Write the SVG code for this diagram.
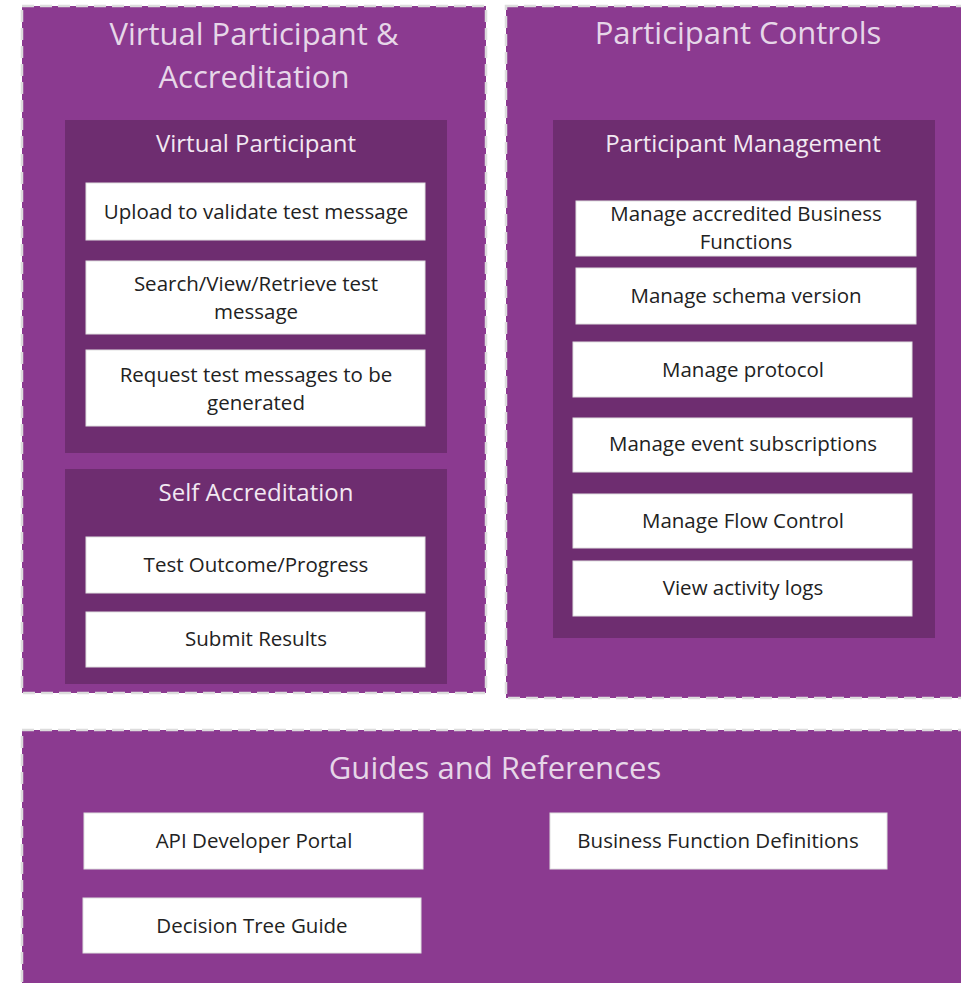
<svg xmlns="http://www.w3.org/2000/svg" width="961" height="983" viewBox="0 0 961 983">
<style>
.outer{fill:#8B3A90;stroke:#DCDCDC;stroke-width:2.5;stroke-dasharray:12 6}
.inner{fill:#6E2D70}
.box{fill:#FFFFFF;stroke:#E0E0E0;stroke-width:1}
.t1{font-family:"Open Sans","Liberation Sans",sans-serif;font-size:31px;fill:#E6D6E8;text-anchor:middle}
.t2{font-family:"Open Sans","Liberation Sans",sans-serif;font-size:24px;fill:#F2E8F2;text-anchor:middle}
.t3{font-family:"Open Sans","Liberation Sans",sans-serif;font-size:20.5px;fill:#222222;text-anchor:middle}
</style>
<rect width="961" height="983" fill="#FFFFFF"/>
<g id="vpa">
<rect class="outer" x="22" y="6" width="464" height="687"/>
<text class="t1" x="254" y="45">Virtual Participant &amp;</text>
<text class="t1" x="254" y="88">Accreditation</text>
</g>
<g id="vp">
<rect class="inner" x="65" y="120" width="382" height="333"/>
<text class="t2" x="256" y="152">Virtual Participant</text>
</g>
<g id="upload">
<rect class="box" x="86" y="183" width="339" height="57"/>
<text class="t3" x="256" y="219">Upload to validate test message</text>
</g>
<g id="search">
<rect class="box" x="86" y="261" width="339" height="73"/>
<text class="t3" x="256" y="291">Search/View/Retrieve test</text>
<text class="t3" x="256" y="319">message</text>
</g>
<g id="request">
<rect class="box" x="86" y="350" width="339" height="76"/>
<text class="t3" x="256" y="382">Request test messages to be</text>
<text class="t3" x="256" y="410">generated</text>
</g>
<g id="sa">
<rect class="inner" x="65" y="469" width="382" height="215"/>
<text class="t2" x="256" y="501">Self Accreditation</text>
</g>
<g id="outcome">
<rect class="box" x="86" y="537" width="339" height="56"/>
<text class="t3" x="256" y="572">Test Outcome/Progress</text>
</g>
<g id="submit">
<rect class="box" x="86" y="612" width="339" height="55"/>
<text class="t3" x="256" y="646">Submit Results</text>
</g>
<g id="pc">
<rect class="outer" x="506" y="6" width="462" height="692"/>
<text class="t1" x="738" y="44">Participant Controls</text>
</g>
<g id="pm">
<rect class="inner" x="553" y="120" width="382" height="518"/>
<text class="t2" x="743" y="152">Participant Management</text>
</g>
<g id="accredited">
<rect class="box" x="576" y="201" width="340" height="55"/>
<text class="t3" x="746" y="221">Manage accredited Business</text>
<text class="t3" x="746" y="249">Functions</text>
</g>
<g id="schema">
<rect class="box" x="576" y="268" width="340" height="56"/>
<text class="t3" x="746" y="303">Manage schema version</text>
</g>
<g id="protocol">
<rect class="box" x="573" y="342" width="339" height="55"/>
<text class="t3" x="743" y="377">Manage protocol</text>
</g>
<g id="event">
<rect class="box" x="573" y="418" width="339" height="54"/>
<text class="t3" x="743" y="451">Manage event subscriptions</text>
</g>
<g id="flow">
<rect class="box" x="573" y="494" width="339" height="54"/>
<text class="t3" x="743" y="528">Manage Flow Control</text>
</g>
<g id="logs">
<rect class="box" x="573" y="561" width="339" height="55"/>
<text class="t3" x="743" y="595">View activity logs</text>
</g>
<g id="guides">
<rect class="outer" x="22" y="730" width="946" height="260"/>
<text class="t1" x="495" y="779">Guides and References</text>
</g>
<g id="api">
<rect class="box" x="84" y="813" width="339" height="56"/>
<text class="t3" x="254" y="848">API Developer Portal</text>
</g>
<g id="bfd">
<rect class="box" x="550" y="813" width="337" height="56"/>
<text class="t3" x="718" y="848">Business Function Definitions</text>
</g>
<g id="dtg">
<rect class="box" x="83" y="898" width="338" height="55"/>
<text class="t3" x="252" y="933">Decision Tree Guide</text>
</g>
<g id="connectors"></g>
</svg>
